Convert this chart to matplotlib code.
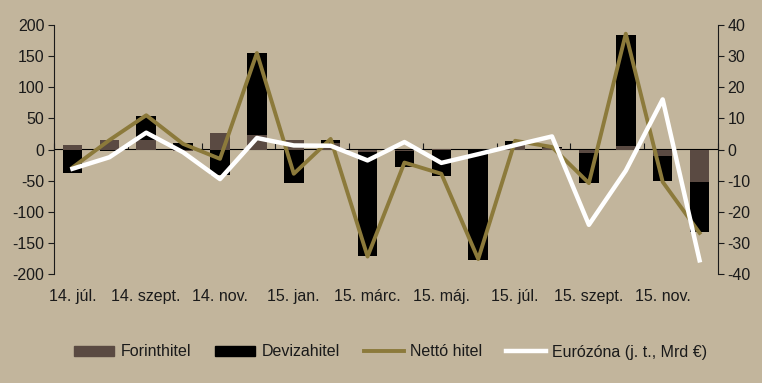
import numpy as np
import matplotlib.pyplot as plt
from matplotlib.patches import Patch
from matplotlib.lines import Line2D

plt.rcParams['font.family'] = ['Liberation Sans', 'DejaVu Sans']
plt.rcParams['axes.unicode_minus'] = False

honapok = ['14. júl.', '14. aug.', '14. szept.', '14. okt.', '14. nov.', '14. dec.',
           '15. jan.', '15. febr.', '15. márc.', '15. ápr.', '15. máj.', '15. jún.',
           '15. júl.', '15. aug.', '15. szept.', '15. okt.', '15. nov.', '15. dec.']
forinthitel = [7, 16, 16, -3, 26, 24, 15, 11, -4, -2, 1, -1, 7, 2, -6, 6, -11, -52]
devizahitel = [-37, -2, 38, 11, -41, 131, -54, 5, -167, -26, -42, -176, 6, 2, -48, 178, -40, -81]
netto_hitel = [-29, 15, 55, 9, -15, 155, -39, 17, -172, -21, -39, -176, 14, 4, -54, 186, -52, -134]
eurozona = [-6.2, -2.5, 5.4, -0.9, -9.5, 3.7, 1.3, 1.2, -3.5, 2.4, -4.3, -1.5, 1.4, 4.2, -24.2, -6.8, 16.1, -35.6]

bg = '#c2b59c'
c_forint = '#5a4a42'
c_deviza = '#000000'
c_netto = '#8c7a3b'
c_euro = '#ffffff'
txt = '#1a1a1a'
fs = 11.5

x = np.arange(len(honapok))
f = np.array(forinthitel)
d = np.array(devizahitel)
# excel-style stacking: same sign stacks on forint, opposite sign starts at 0
d_bottom = np.where(np.sign(d) == np.sign(f), f, 0)

fig = plt.figure(figsize=(7.62, 3.83), dpi=100, facecolor=bg)
ax = fig.add_axes([54 / 762, 1 - 274 / 383, (718 - 54) / 762, (274 - 25) / 383])
ax.set_facecolor(bg)

w = 0.53
ax.bar(x, f, width=w, color=c_forint, zorder=2)
ax.bar(x, d, width=w, bottom=d_bottom, color=c_deviza, zorder=2)
ax.plot(x, netto_hitel, color=c_netto, lw=2.8, zorder=3)

ax.set_xlim(-0.5, len(x) - 0.5)
ax.set_ylim(-200, 200)
ax.set_yticks(np.arange(-200, 201, 50))
ax.set_xticks(x[::2])
ax.set_xticklabels(honapok[::2])
ax.tick_params(axis='x', length=0, pad=11, labelsize=fs, colors=txt)
ax.tick_params(axis='y', direction='out', length=4, labelsize=fs, colors=txt, pad=3)
for s in ['top', 'bottom']:
    ax.spines[s].set_visible(False)
ax.spines['left'].set_color(txt)
ax.spines['right'].set_visible(False)

# zero line with category tick marks
zero = ax.secondary_xaxis(0.5)
zero.set_xticks(np.arange(-0.5, len(x), 2))
zero.set_xticklabels([])
zero.tick_params(direction='out', length=4, color=txt)
zero.spines['bottom'].set_color(txt)
zero.spines['bottom'].set_linewidth(1.0)

ax2 = ax.twinx()
ax2.plot(x, eurozona, color=c_euro, lw=3.2, zorder=4)
ax2.set_ylim(-40, 40)
ax2.set_yticks(np.arange(-40, 41, 10))
ax2.tick_params(axis='y', direction='out', length=4, labelsize=fs, colors=txt, pad=3)
for s in ['top', 'bottom', 'left']:
    ax2.spines[s].set_visible(False)
ax2.spines['right'].set_color(txt)

handles = [Patch(color=c_forint), Patch(color=c_deviza),
           Line2D([], [], color=c_netto, lw=2.8), Line2D([], [], color=c_euro, lw=3.2)]
labels = ['Forinthitel', 'Devizahitel', 'Nettó hitel', 'Eurózóna (j. t., Mrd €)']
leg = fig.legend(handles, labels, loc='center', bbox_to_anchor=(391 / 762, 1 - 352 / 383),
                 ncol=4, frameon=False, fontsize=fs, handlelength=2.5, handleheight=0.6,
                 handletextpad=0.4, columnspacing=1.5)
for t in leg.get_texts():
    t.set_color(txt)

fig.savefig('out.png', dpi=100, facecolor=bg)
